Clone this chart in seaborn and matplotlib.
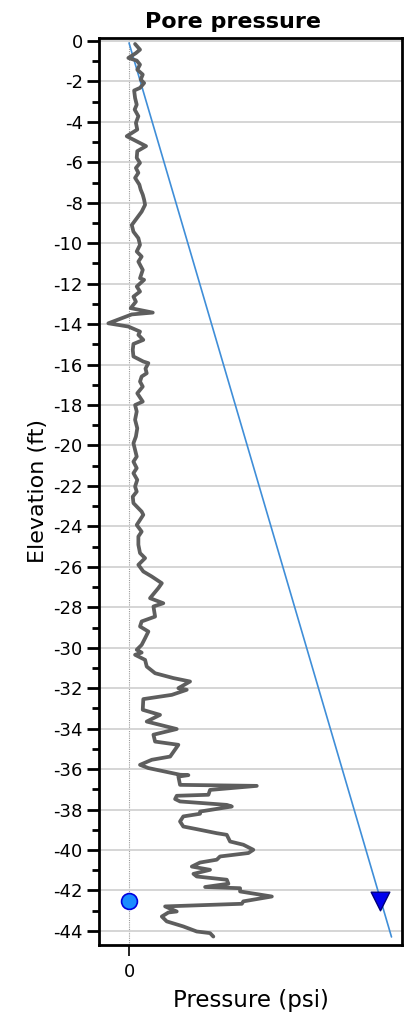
import matplotlib
matplotlib.use("Agg")
import matplotlib.pyplot as plt
from matplotlib.ticker import MultipleLocator, FixedLocator
import seaborn as sns
import pandas as pd

# Measured pore pressure profile (elevation in ft, pressure in psi)
pore_elev = [
    -0.15, -0.43, -0.6, -0.84, -0.97, -1.17, -1.42, -1.66, -1.91, -2.08,
    -2.32, -2.45, -2.82, -3.15, -3.39, -3.72, -4.05, -4.38, -4.71, -4.88,
    -5.2, -5.45, -5.78, -6.03, -6.28, -6.52, -6.77, -7.1, -7.35, -7.6,
    -7.85, -8.1, -8.44, -8.77, -9.1, -9.43, -9.75, -10.08, -10.41, -10.66,
    -10.91, -11.32, -11.73, -11.81, -12.14, -12.39, -12.64, -12.89, -13.21, -13.43,
    -13.52, -13.96, -14.12, -14.37, -14.53, -14.78, -14.98, -15.27, -15.6, -15.85,
    -15.93, -16.2, -16.43, -16.59, -16.84, -17.09, -17.42, -17.83, -18.0, -18.32,
    -18.73, -19.15, -19.56, -19.89, -20.22, -20.55, -20.8, -21.12, -21.37, -21.7,
    -22.03, -22.28, -22.53, -22.85, -23.1, -23.27, -23.43, -23.68, -23.93, -24.26,
    -24.5, -24.91, -25.32, -25.57, -25.9, -26.23, -26.48, -26.81, -27.05, -27.55,
    -27.8, -27.96, -28.46, -28.7, -28.95, -29.2, -29.53, -29.86, -30.1, -30.24,
    -30.35, -30.6, -30.93, -31.26, -31.5, -31.67, -32.0, -32.08, -32.33, -32.54,
    -33.07, -33.32, -33.65, -34.02, -34.3, -34.64, -34.8, -35.38, -35.54, -35.79,
    -35.95, -36.28, -36.3, -36.37, -36.78, -36.83, -37.03, -37.27, -37.32, -37.48,
    -37.6, -37.77, -37.85, -38.1, -38.21, -38.34, -38.59, -38.84, -38.97, -39.17,
    -39.25, -39.58, -39.74, -39.99, -40.15, -40.32, -40.48, -40.62, -40.82, -40.98,
    -41.18, -41.31, -41.47, -41.67, -41.83, -41.89, -42.05, -42.3, -42.54, -42.66,
    -42.79, -43.04, -43.09, -43.29, -43.53, -43.78, -44.03, -44.11, -44.28,
]
pore_pres = [
    0.44, 0.8, 0.5, -0.05, 0.56, 0.8, 0.6, 1.0, 0.85, 1.1,
    0.8, 0.37, 0.44, 0.56, 0.41, 0.68, 0.5, 0.6, -0.17, 0.32,
    1.24, 0.6, 0.56, 0.8, 0.5, 0.68, 0.44, 0.75, 0.85, 1.0,
    1.1, 1.17, 0.92, 0.56, 0.2, 0.32, 0.68, 0.8, 0.56, 0.92,
    0.68, 1.0, 0.8, 1.1, 0.56, 0.8, 0.32, 0.5, 0.12, 1.73,
    0.2, -1.51, -0.05, 0.8, 0.68, 1.04, 0.32, 0.27, 0.32, 1.04,
    1.41, 1.2, 1.29, 0.92, 0.8, 1.0, 0.6, 1.0, 0.44, 0.56,
    0.44, 0.6, 0.5, 0.32, 0.44, 0.56, 0.32, 0.56, 0.32, 0.6,
    0.44, 0.56, 0.27, 0.32, 0.68, 0.92, 1.04, 0.8, 0.56, 0.92,
    0.68, 0.68, 0.8, 1.17, 0.68, 1.04, 1.66, 2.39, 2.14, 1.53,
    2.5, 1.78, 1.9, 0.92, 0.8, 1.41, 1.17, 0.92, 0.56, 0.92,
    0.44, 1.17, 1.29, 1.9, 3.23, 4.45, 3.6, 4.21, 3.12, 1.04,
    1.0, 2.26, 1.29, 3.48, 1.78, 1.9, 3.6, 3.0, 1.66, 0.8,
    1.41, 3.72, 4.33, 3.6, 3.72, 9.32, 5.91, 5.79, 3.48, 3.36,
    3.72, 7.13, 7.5, 5.18, 5.18, 3.96, 3.72, 3.96, 4.94, 6.4,
    7.13, 7.37, 8.34, 9.07, 8.71, 6.64, 6.4, 5.18, 4.58, 5.91,
    4.7, 4.94, 7.13, 7.25, 5.55, 8.1, 8.1, 10.42, 8.34, 8.23,
    2.63, 3.48, 2.87, 2.39, 2.75, 3.96, 4.94, 5.91, 6.15,
]

# Hydrostatic reference line
hydro_elev = [-0.1, -44.3]
hydro_pres = [0.0, 19.15]

# Piezometer reading and hydrostatic value at the sensor elevation
sensor_elev = -42.5
sensor_pres = 0.0
sensor_hydro = 18.34

y_ticks = list(range(0, -45, -2))
x_ticks = [0]

sns.set_style("white")
plt.rcParams["font.family"] = ["DejaVu Sans"]
plt.rcParams["text.color"] = "black"
plt.rcParams["axes.labelcolor"] = "black"
plt.rcParams["xtick.color"] = "black"
plt.rcParams["ytick.color"] = "black"

fig = plt.figure(figsize=(4.06, 10.14), dpi=100)
ax = fig.add_axes([0.2446, 0.068, 0.745, 0.895])

pore_df = pd.DataFrame({"elev": pore_elev, "pres": pore_pres})
hydro_df = pd.DataFrame({"elev": hydro_elev, "pres": hydro_pres})

sns.lineplot(data=hydro_df, x="pres", y="elev", sort=False, estimator=None,
             color="#3f8ed8", linewidth=1.2, ax=ax, zorder=3)
sns.lineplot(data=pore_df, x="pres", y="elev", sort=False, estimator=None,
             color="#5e5e5e", linewidth=2.7, ax=ax, zorder=4)
sns.scatterplot(x=[sensor_pres], y=[sensor_elev], marker="o", s=130,
                color="#1a8cff", edgecolor="#0000dd", linewidth=1.2, ax=ax, zorder=5)
sns.scatterplot(x=[sensor_hydro], y=[sensor_elev], marker="v", s=180,
                color="#0000ee", edgecolor="#00007a", linewidth=1.0, ax=ax, zorder=5)

ax.set_xlim(-2.17, 19.9)
ax.set_ylim(-44.7, 0.17)

ax.yaxis.set_major_locator(FixedLocator(y_ticks))
ax.yaxis.set_minor_locator(MultipleLocator(1))
ax.set_yticklabels([f"{t}" for t in y_ticks])
ax.xaxis.set_major_locator(FixedLocator(x_ticks))
ax.set_xticklabels([str(t) for t in x_ticks])

ax.tick_params(axis="y", which="major", direction="out", length=9, width=2,
               labelsize=13, pad=3, left=True)
ax.tick_params(axis="y", which="minor", direction="out", length=5, width=2, left=True)
ax.tick_params(axis="x", which="major", direction="out", length=8, width=1.2,
               labelsize=13, pad=5, bottom=True)

ax.yaxis.grid(True, which="major", color="#d2d2d2", linestyle="-", linewidth=1.3)
ax.xaxis.grid(True, which="major", color="#9a9a9a", linestyle=(0, (1, 1)), linewidth=0.8)
ax.set_axisbelow(True)

for side in ["left", "right", "top", "bottom"]:
    ax.spines[side].set_visible(True)
    ax.spines[side].set_color("black")
    ax.spines[side].set_linewidth(2)

ax.set_title("Pore pressure", fontsize=16, fontweight="bold", pad=7, x=0.442)
ax.set_xlabel("Pressure (psi)", fontsize=16.5, labelpad=6)
ax.set_ylabel("Elevation (ft)", fontsize=16, labelpad=4)

fig.savefig("out.png", dpi=100)
